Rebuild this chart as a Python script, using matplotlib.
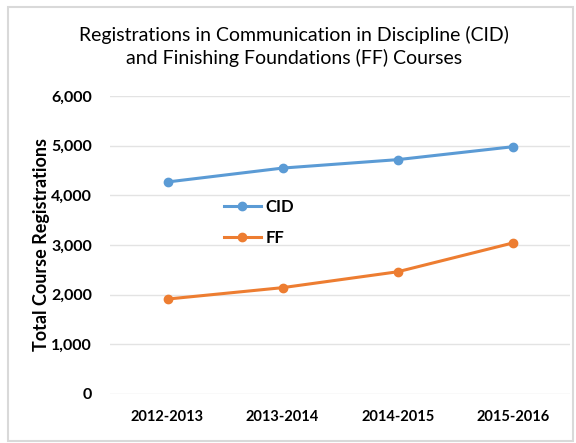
import matplotlib
matplotlib.use("Agg")
import matplotlib.pyplot as plt
from matplotlib.patches import Rectangle
from matplotlib.ticker import FuncFormatter

years = ["2012-2013", "2013-2014", "2014-2015", "2015-2016"]
cid = [4270, 4550, 4720, 4980]
ff = [1910, 2140, 2460, 3040]

plt.rcParams['font.family'] = ['Lato', 'DejaVu Sans']

fig = plt.figure(figsize=(5.76, 4.43), dpi=100)
ax = fig.add_axes([0.191, 0.111, 0.799, 0.672])

x = list(range(len(years)))
ax.plot(x, cid, color='#5b9bd5', marker='o', markersize=6, linewidth=2.2, label='CID')
ax.plot(x, ff, color='#ed7d31', marker='o', markersize=6, linewidth=2.2, label='FF')

ax.set_xlim(-0.5, len(years) - 0.5)
ax.set_ylim(0, 6000)
ax.set_yticks(range(0, 6001, 1000))
ax.yaxis.set_major_formatter(FuncFormatter(lambda v, p: f"{int(v):,}"))
ax.set_xticks(x)
ax.set_xticklabels(years, fontweight='bold', fontsize=10.5)
for lbl in ax.get_yticklabels():
    lbl.set_fontweight('bold')
    lbl.set_fontsize(11.5)
ax.tick_params(length=0, pad=12)
ax.tick_params(axis='y', pad=13)

ax.grid(axis='y', color='#e3e3e3', linewidth=1)
ax.set_axisbelow(True)
for s in ax.spines.values():
    s.set_visible(False)

ax.set_ylabel("Total Course Registrations", fontweight='bold', fontsize=13, labelpad=1)
fig.text(0.51, 0.895, "Registrations in Communication in Discipline (CID)\nand Finishing Foundations (FF) Courses",
         ha='center', va='center', fontsize=14, linespacing=1.3)

ax.legend(loc='upper left', bbox_to_anchor=(0.215, 0.705), frameon=False,
          prop={'weight': 'bold', 'size': 12}, handlelength=2.2, labelspacing=0.9,
          handletextpad=0.3)

fig.patches.append(Rectangle((0.014, 0.005), 0.98, 0.98, transform=fig.transFigure,
                             fill=False, edgecolor='#d9d9d9', linewidth=1.5))

fig.savefig("out.png", dpi=100)
